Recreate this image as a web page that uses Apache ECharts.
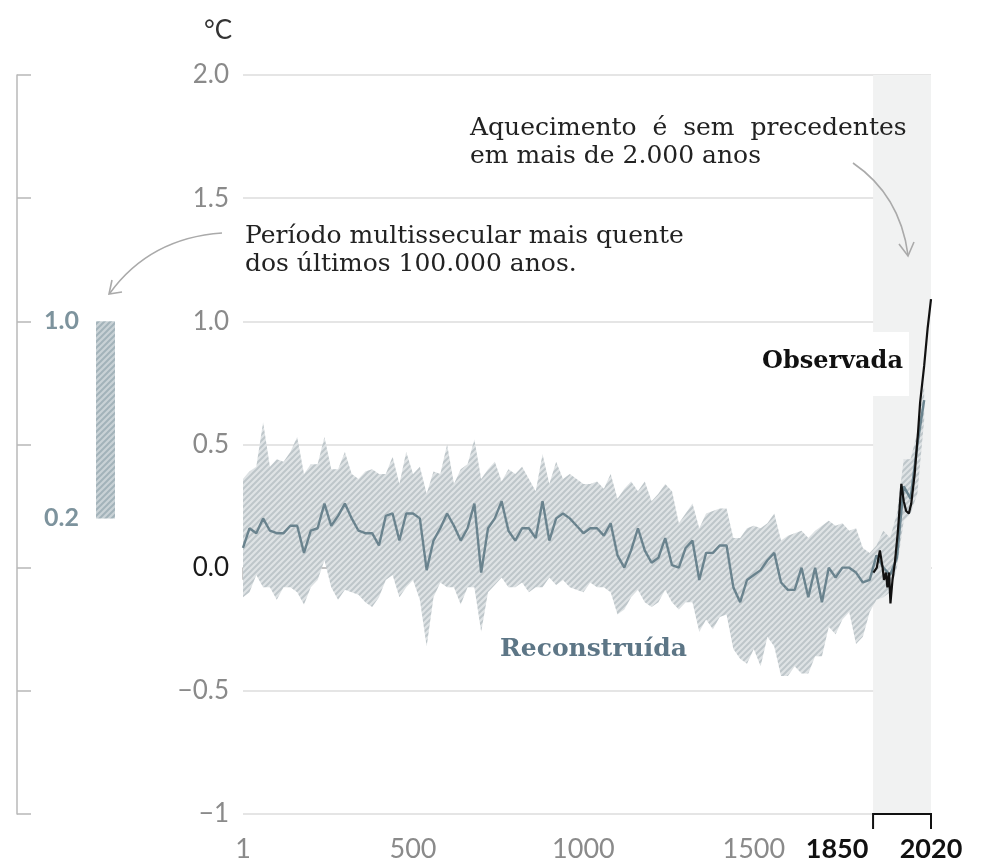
<!DOCTYPE html>
<html>
<head>
<meta charset="utf-8">
<script src="https://cdn.jsdelivr.net/npm/echarts@6.0.0/dist/echarts.min.js"></script>
<style>
html, body { margin: 0; padding: 0; background: #fff; }
#main { width: 981px; height: 867px; }
</style>
</head>
<body>
<div id="main"></div>
<script>
// reconstruction, sampled every 20 years
var years = [1,20,40,60,80,100,120,140,160,180,200,220,240,260,280,300,320,340,360,380,
  400,420,440,460,480,500,520,540,560,580,600,620,640,660,680,700,720,740,760,780,
  800,820,840,860,880,900,920,940,960,980,1000,1020,1040,1060,1080,1100,1120,1140,1160,1180,
  1200,1220,1240,1260,1280,1300,1320,1340,1360,1380,1400,1420,1440,1460,1480,1500,1520,1540,1560,1580,
  1600,1620,1640,1660,1680,1700,1720,1740,1760,1780,1800,1820,1840,1860,1880,1900,1920,1940,1960,1980,2000];
var reconMid = [0.08,0.16,0.14,0.20,0.15,0.14,0.14,0.17,0.17,0.06,0.15,0.16,0.26,0.17,0.21,0.26,0.20,0.15,0.14,0.14,
  0.09,0.21,0.22,0.11,0.22,0.22,0.20,-0.01,0.11,0.16,0.22,0.17,0.11,0.16,0.26,-0.02,0.16,0.20,0.27,0.15,
  0.11,0.16,0.16,0.12,0.27,0.11,0.20,0.22,0.20,0.17,0.14,0.16,0.16,0.13,0.18,0.05,0.00,0.07,0.16,0.07,
  0.02,0.04,0.12,0.01,0.00,0.08,0.11,-0.05,0.06,0.06,0.09,0.09,-0.08,-0.14,-0.05,-0.03,-0.01,0.03,0.06,-0.06,
  -0.09,-0.09,0.00,-0.12,0.00,-0.14,0.00,-0.04,0.00,0.00,-0.02,-0.06,-0.05,0.05,0.00,-0.03,0.04,0.33,0.28,0.50,0.68];
var reconHigh = [0.36,0.39,0.41,0.59,0.41,0.44,0.43,0.47,0.53,0.38,0.42,0.42,0.53,0.40,0.40,0.47,0.38,0.36,0.39,0.40,
  0.38,0.38,0.45,0.34,0.47,0.38,0.41,0.30,0.39,0.38,0.50,0.34,0.40,0.42,0.52,0.36,0.40,0.43,0.35,0.40,
  0.38,0.41,0.36,0.31,0.46,0.34,0.43,0.36,0.38,0.36,0.34,0.34,0.35,0.32,0.38,0.28,0.32,0.35,0.31,0.35,
  0.27,0.30,0.34,0.31,0.18,0.22,0.26,0.16,0.22,0.23,0.24,0.24,0.12,0.12,0.16,0.17,0.16,0.18,0.22,0.11,
  0.13,0.14,0.15,0.12,0.15,0.17,0.19,0.17,0.18,0.15,0.16,0.08,0.06,0.09,0.15,0.12,0.22,0.44,0.44,0.55,0.75];
var reconLow = [-0.12,-0.10,-0.03,-0.08,-0.08,-0.13,-0.08,-0.08,-0.10,-0.15,-0.08,-0.05,0.03,-0.08,-0.13,-0.09,-0.10,-0.11,-0.14,-0.16,
  -0.12,-0.05,-0.03,-0.12,-0.08,-0.05,-0.13,-0.32,-0.12,-0.06,-0.08,-0.08,-0.15,-0.08,-0.08,-0.26,-0.10,-0.07,-0.04,-0.08,
  -0.08,-0.06,-0.10,-0.08,-0.08,-0.04,-0.07,-0.05,-0.08,-0.09,-0.10,-0.06,-0.08,-0.08,-0.10,-0.19,-0.17,-0.12,-0.09,-0.14,
  -0.16,-0.14,-0.09,-0.14,-0.17,-0.14,-0.14,-0.26,-0.21,-0.25,-0.20,-0.19,-0.33,-0.37,-0.39,-0.33,-0.40,-0.28,-0.32,-0.44,
  -0.44,-0.40,-0.43,-0.43,-0.36,-0.36,-0.24,-0.27,-0.21,-0.18,-0.31,-0.28,-0.18,-0.13,-0.12,-0.10,0.00,0.19,0.22,0.30,0.60];

// observed record
var obsYears = [1851,1861,1870,1878,1882,1888,1892,1897,1901,1907,1914,1923,1933,1940,1947,1955,1962,1972,1982,1988,2000,2010,2020];
var obsValues = [-0.02,0.00,0.07,0.00,-0.05,-0.02,-0.08,-0.02,-0.145,-0.05,0.02,0.15,0.34,0.27,0.23,0.22,0.26,0.38,0.55,0.67,0.82,0.97,1.09];

var xTicks = [1, 500, 1000, 1500, 1850, 2020];
var instrumentalPeriod = [1850, 2020];
var warmPeriod = [0.2, 1.0];
var warmTicks = [0.2, 1.0];

function hatch(bg, fg, w) {
  var c = document.createElement('canvas');
  c.width = 6; c.height = 6;
  var g = c.getContext('2d');
  g.fillStyle = bg;
  g.fillRect(0, 0, 6, 6);
  g.strokeStyle = fg;
  g.lineWidth = w;
  g.beginPath();
  g.moveTo(-1, 7); g.lineTo(7, -1);
  g.moveTo(-4, 4); g.lineTo(4, -4);
  g.moveTo(2, 10); g.lineTo(10, 2);
  g.stroke();
  return { image: c, repeat: 'repeat' };
}

var chart = echarts.init(document.getElementById('main'));

var sans = 'Lato';
var bandFill = hatch('#dfe3e5', '#bec6ca', 2);

function fmtY(v) {
  if (v === -1) return '−1';
  var s = Math.abs(v).toFixed(1);
  return v < 0 ? '−' + s : s;
}

option = {
  backgroundColor: '#fff',
  animation: false,
  grid: [
    { left: 243, right: 50, top: 75, bottom: 53 },
    { left: 96, width: 19, top: 75, bottom: 53 }
  ],
  xAxis: [
    {
      type: 'value', gridIndex: 0, min: 1, max: 2020,
      splitLine: { show: false },
      axisLine: { lineStyle: { color: '#b8b8b8', width: 1.5 } },
      axisTick: { customValues: [1, 500, 1000, 1500], length: 12, lineStyle: { color: '#b8b8b8', width: 1.5 } },
      axisLabel: {
        customValues: xTicks,
        margin: 22,
        fontFamily: sans,
        fontSize: 27,
        color: '#8a8a8a',
        formatter: function (v) {
          if (v === 1850) return '{b1|1850}';
          if (v === 2020) return '{b|2020}';
          return String(v);
        },
        rich: {
          b: { fontFamily: sans, fontSize: 27, fontWeight: 'bold', color: '#111' },
          b1: { fontFamily: sans, fontSize: 27, fontWeight: 'bold', color: '#111', padding: [0, 72, 0, 0] }
        }
      }
    },
    { type: 'category', gridIndex: 1, data: ['p'], show: false }
  ],
  yAxis: [
    {
      type: 'value', gridIndex: 0, min: -1, max: 2, interval: 0.5,
      axisLine: { show: false },
      axisTick: { show: false },
      splitLine: { lineStyle: { color: '#dcdcdc', width: 1.5 } },
      axisLabel: {
        margin: 14,
        fontFamily: sans,
        fontSize: 26,
        color: '#8a8a8a',
        formatter: function (v) { return v === 0 ? '{z|0.0}' : fmtY(v); },
        rich: { z: { fontFamily: sans, fontSize: 26, color: '#1a1a1a' } }
      }
    },
    {
      type: 'value', gridIndex: 1, min: -1, max: 2, interval: 0.5,
      position: 'left', offset: 79,
      splitLine: { show: false },
      axisLine: { show: true, lineStyle: { color: '#b8b8b8', width: 1.5 } },
      axisTick: { show: true, inside: true, length: 14, lineStyle: { color: '#b8b8b8', width: 1.5 } },
      axisLabel: {
        inside: true, margin: 27,
        customValues: warmTicks,
        fontFamily: sans, fontSize: 25, fontWeight: 'bold', color: '#7d939d',
        formatter: function (v) { return v.toFixed(1); }
      }
    }
  ],
  series: [
    {
      name: 'shade', type: 'line', xAxisIndex: 0, yAxisIndex: 0, z: 1,
      data: [],
      markArea: {
        silent: true,
        itemStyle: { color: '#f1f2f2' },
        data: [[{ xAxis: instrumentalPeriod[0], yAxis: -1 }, { xAxis: instrumentalPeriod[1], yAxis: 2 }]]
      }
    },
    {
      name: 'band', type: 'custom', xAxisIndex: 0, yAxisIndex: 0, z: 3,
      clip: true,
      data: years.map(function (y, i) { return [y, reconLow[i], reconHigh[i]]; }),
      encode: { x: 0, y: [1, 2] },
      renderItem: function (params, api) {
        if (params.dataIndex !== 0) return null;
        var pts = [], i;
        for (i = 0; i < years.length; i++) pts.push(api.coord([years[i], reconHigh[i]]));
        for (i = years.length - 1; i >= 0; i--) pts.push(api.coord([years[i], reconLow[i]]));
        return { type: 'polygon', shape: { points: pts }, style: { fill: bandFill } };
      }
    },
    {
      name: 'Reconstruída', type: 'line', xAxisIndex: 0, yAxisIndex: 0,
      symbol: 'none', z: 4,
      lineStyle: { color: '#6a838e', width: 2.4 },
      data: years.map(function (y, i) { return [y, reconMid[i]]; })
    },
    {
      name: 'Observada', type: 'line', xAxisIndex: 0, yAxisIndex: 0,
      symbol: 'none', z: 5,
      lineStyle: { color: '#111', width: 2.2 },
      data: obsYears.map(function (y, i) { return [y, obsValues[i]]; })
    },
    {
      name: 'bracket', type: 'custom', xAxisIndex: 0, yAxisIndex: 0, z: 6,
      data: [[instrumentalPeriod[0], instrumentalPeriod[1]]],
      encode: { x: [0, 1] },
      renderItem: function (params, api) {
        var a = api.coord([api.value(0), -1]);
        var b = api.coord([api.value(1), -1]);
        return {
          type: 'polyline',
          shape: { points: [[a[0], a[1] + 15], [a[0], a[1]], [b[0], b[1]], [b[0], b[1] + 15]] },
          style: { stroke: '#111', lineWidth: 2, fill: null }
        };
      }
    },
    {
      name: 'base', type: 'bar', xAxisIndex: 1, yAxisIndex: 1,
      stack: 'warm', barWidth: 19, silent: true,
      itemStyle: { color: 'transparent' },
      data: [warmPeriod[0]]
    },
    {
      name: 'warm', type: 'bar', xAxisIndex: 1, yAxisIndex: 1,
      stack: 'warm', barWidth: 19,
      itemStyle: { color: hatch('#c9d2d6', '#a3b3ba', 2) },
      data: [+(warmPeriod[1] - warmPeriod[0]).toFixed(2)]
    }
  ],
  graphic: [
    { type: 'text', left: 204, top: 18, style: { text: '°C', font: '26px Lato', fill: '#333' } },
    {
      type: 'text', left: 245, top: 222, z: 10,
      style: { text: 'Período multissecular mais quente\ndos últimos 100.000 anos.', font: '25px "DejaVu Serif"', fill: '#222', lineHeight: 28 }
    },
    {
      type: 'text', left: 470, top: 114, z: 10,
      style: { text: 'Aquecimento  é  sem  precedentes\nem mais de 2.000 anos', font: '25px "DejaVu Serif"', fill: '#222', lineHeight: 28 }
    },
    {
      type: 'text', left: 500, top: 637, z: 10,
      style: { text: 'Reconstruída', font: 'bold 25px "DejaVu Serif"', fill: '#5d7686' }
    },
    {
      type: 'text', left: 756, top: 332, z: 10,
      style: { text: 'Observada', font: 'bold 24px "DejaVu Serif"', fill: '#111', backgroundColor: '#fff', padding: [18, 6, 22, 6] }
    },
    {
      type: 'bezierCurve', z: 10,
      shape: { x1: 222, y1: 233, cpx1: 150, cpy1: 238, x2: 110, y2: 293 },
      style: { stroke: '#aaa', lineWidth: 1.6, fill: null }
    },
    {
      type: 'polyline', z: 10,
      shape: { points: [[112, 280], [109, 294], [122, 292]] },
      style: { stroke: '#aaa', lineWidth: 1.6, fill: null }
    },
    {
      type: 'bezierCurve', z: 10,
      shape: { x1: 853, y1: 163, cpx1: 900, cpy1: 195, x2: 908, y2: 255 },
      style: { stroke: '#aaa', lineWidth: 1.6, fill: null }
    },
    {
      type: 'polyline', z: 10,
      shape: { points: [[899, 244], [908, 256], [914, 242]] },
      style: { stroke: '#aaa', lineWidth: 1.6, fill: null }
    }
  ]
};

chart.setOption(option);
</script>
</body>
</html>
